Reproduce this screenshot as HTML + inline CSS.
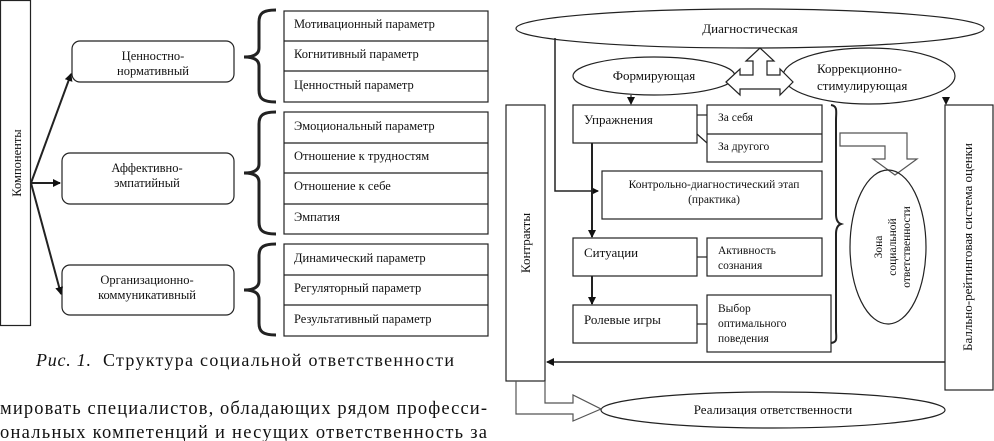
<!DOCTYPE html>
<html><head><meta charset="utf-8"><style>
body{margin:0;background:#fff}
svg{display:block}
text{font-family:"Liberation Serif",serif;fill:#111}
</style></head><body>
<svg width="994" height="441" viewBox="0 0 994 441" xmlns="http://www.w3.org/2000/svg">
<defs><marker id="ah" markerWidth="8" markerHeight="8" refX="7" refY="4" orient="auto" markerUnits="userSpaceOnUse"><path d="M0,0 L8,4 L0,8 z" fill="#111"/></marker></defs>
<g stroke="#222" fill="none" stroke-width="1.2">
<rect x="0.5" y="0.5" width="30" height="325"/>
<rect x="72" y="41" width="162" height="41" rx="8"/>
<rect x="62" y="153" width="172" height="51" rx="8"/>
<rect x="62" y="265" width="172" height="50" rx="8"/>
<g stroke-width="2" marker-end="url(#ah)">
<line x1="31" y1="183" x2="71" y2="74"/>
<line x1="31" y1="183" x2="60" y2="183"/>
<line x1="31" y1="183" x2="61" y2="294"/>
</g>
<g stroke-width="3">
<path d="M276,10 C262,10 259,14 259,22 L259,48 C259,54 254,57 244,57 C254,57 259,60 259,66 L259,90 C259,98 262,102 276,102"/>
<path d="M276,112 C262,112 259,116 259,124 L259,164 C259,170 254,173 244,173 C254,173 259,176 259,182 L259,222 C259,230 262,234 276,234"/>
<path d="M276,244 C262,244 259,248 259,256 L259,281 C259,287 254,290 244,290 C254,290 259,293 259,299 L259,323 C259,331 262,335 276,335"/>
</g>
<rect x="284" y="11" width="204" height="91"/><line x1="284" y1="41" x2="488" y2="41"/><line x1="284" y1="71" x2="488" y2="71"/>
<rect x="284" y="112" width="204" height="122"/><line x1="284" y1="143" x2="488" y2="143"/><line x1="284" y1="173" x2="488" y2="173"/><line x1="284" y1="204" x2="488" y2="204"/>
<rect x="284" y="244" width="204" height="92"/><line x1="284" y1="275" x2="488" y2="275"/><line x1="284" y1="305" x2="488" y2="305"/>
</g>
<g font-size="12.5">
<text transform="translate(21,163) rotate(-90)" text-anchor="middle">Компоненты</text>
<text x="153" y="60" text-anchor="middle">Ценностно-</text><text x="153" y="75" text-anchor="middle">нормативный</text>
<text x="147" y="172" text-anchor="middle">Аффективно-</text><text x="147" y="187" text-anchor="middle">эмпатийный</text>
<text x="147" y="284" text-anchor="middle">Организационно-</text><text x="147" y="299" text-anchor="middle">коммуникативный</text>
<text x="294" y="28">Мотивационный параметр</text>
<text x="294" y="58">Когнитивный параметр</text>
<text x="294" y="89">Ценностный параметр</text>
<text x="294" y="130">Эмоциональный параметр</text>
<text x="294" y="160">Отношение к трудностям</text>
<text x="294" y="190">Отношение к себе</text>
<text x="294" y="221">Эмпатия</text>
<text x="294" y="262">Динамический параметр</text>
<text x="294" y="292">Регуляторный параметр</text>
<text x="294" y="323">Результативный параметр</text>
</g>
<text x="36" y="366" font-size="18" font-style="italic" textLength="55" lengthAdjust="spacing">Рис. 1.</text>
<text x="103" y="366" font-size="18" textLength="351" lengthAdjust="spacing">Структура социальной ответственности</text>
<text x="0" y="414" font-size="18.5" textLength="487" lengthAdjust="spacing">мировать специалистов, обладающих рядом професси-</text>
<text x="0" y="438" font-size="18.5" textLength="487" lengthAdjust="spacing">ональных компетенций и несущих ответственность за</text>

<g stroke="#222" fill="none" stroke-width="1.2">
<ellipse cx="750" cy="28.5" rx="234" ry="19.5"/>
<ellipse cx="654" cy="76" rx="81" ry="19"/>
<ellipse cx="869" cy="76" rx="86" ry="28" fill="#fff"/>
<path d="M726,82 L740,69 L740,75 L753,75 L753,61 L746,61 L760,48 L774,61 L767,61 L767,75 L780,75 L780,69 L793,82 L780,95 L780,89 L740,89 L740,95 Z" fill="#fff"/>
<path d="M555,38 L555,191 L598,191" marker-end="url(#ah)" stroke-width="1.5"/>
<line x1="631" y1="95" x2="631" y2="104" marker-end="url(#ah)"/>
<line x1="946" y1="97" x2="946" y2="104" marker-end="url(#ah)"/>
<rect x="573" y="105" width="124" height="38"/>
<rect x="707" y="105" width="115" height="57"/><line x1="707" y1="134" x2="822" y2="134"/>
<line x1="697" y1="115" x2="707" y2="115"/><line x1="697" y1="134" x2="707" y2="143"/>
<rect x="602" y="171" width="220" height="48"/>
<line x1="592" y1="143" x2="592" y2="237" marker-end="url(#ah)" stroke-width="2"/>
<rect x="573" y="238" width="124" height="38"/>
<rect x="707" y="238" width="115" height="38"/><line x1="697" y1="257" x2="707" y2="257"/>
<line x1="592" y1="276" x2="592" y2="304" marker-end="url(#ah)" stroke-width="2"/>
<rect x="573" y="305" width="124" height="38"/>
<rect x="707" y="295" width="124" height="57"/><line x1="697" y1="324" x2="707" y2="324"/>
<path d="M831,105 C838,106 836,112 836,120 L836,214 C836,220 838,223 841,224 C838,225 836,228 836,234 L836,330 C836,338 838,342 831,343" stroke-width="2"/>
<path d="M840,133 L907,133 L907,159 L917,159 L895,175 L873,159 L885,159 L885,146 L840,146 Z" stroke="#555"/>
<ellipse cx="888" cy="247" rx="38" ry="77"/>
<rect x="506" y="105" width="39" height="276"/>
<rect x="945" y="105" width="48" height="285"/>
<line x1="945" y1="362" x2="547" y2="362" marker-end="url(#ah)" stroke-width="1.5"/>
<ellipse cx="773" cy="410" rx="172" ry="18"/>
<path d="M516,381 L516,414 L573,414 L573,421 L601,409 L573,395 L573,403 L545,403 L545,381" stroke="#555"/>
</g>
<g font-size="13">
<text x="750" y="33" text-anchor="middle">Диагностическая</text>
<text x="654" y="80" text-anchor="middle">Формирующая</text>
<text x="817" y="73">Коррекционно-</text><text x="817" y="90">стимулирующая</text>
<text x="584" y="124">Упражнения</text>
<text x="584" y="257">Ситуации</text>
<text x="584" y="324">Ролевые игры</text>
<text transform="translate(530,243) rotate(-90)" text-anchor="middle">Контракты</text>
<text transform="translate(972,247) rotate(-90)" text-anchor="middle">Балльно-рейтинговая система оценки</text>
<text x="773" y="414" text-anchor="middle">Реализация ответственности</text>
</g>
<g font-size="11.5">
<text x="718" y="121">За себя</text>
<text x="718" y="150">За другого</text>
<text x="714" y="188" text-anchor="middle">Контрольно-диагностический этап</text>
<text x="714" y="203" text-anchor="middle">(практика)</text>
<text x="718" y="254">Активность</text><text x="718" y="269">сознания</text>
<text x="718" y="312">Выбор</text><text x="718" y="327">оптимального</text><text x="718" y="342">поведения</text>
<text transform="translate(882,247) rotate(-90)" text-anchor="middle">Зона</text>
<text transform="translate(896,247) rotate(-90)" text-anchor="middle">социальной</text>
<text transform="translate(910,247) rotate(-90)" text-anchor="middle">ответственности</text>
</g>
</svg>
</body></html>
